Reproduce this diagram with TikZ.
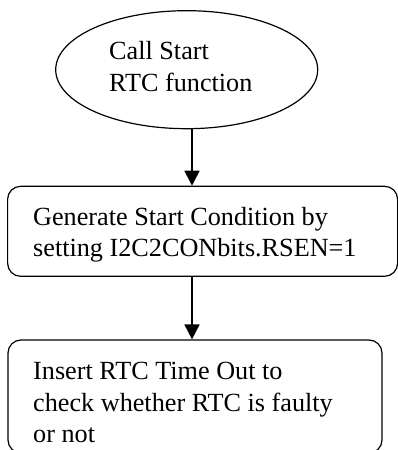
\documentclass[tikz,border=0pt]{standalone}
\usepackage{fontspec}
\setmainfont{Liberation Serif}
\usetikzlibrary{shapes.geometric,arrows.meta}
\begin{document}
\begin{tikzpicture}[x=1pt,y=1pt,
  shapeline/.style={draw=black,line width=1.2pt,inner sep=0pt},
  procbox/.style={shapeline,rectangle,rounded corners=13pt},
  txt/.style={anchor=base west,inner sep=0pt,font=\fontsize{26.2}{31}\selectfont},
  flow/.style={line width=1.8pt,-{Triangle[length=15pt,width=15pt]}}]
  \useasboundingbox (0,0) rectangle (398,450);
  \clip (0,0) rectangle (398,450);

  % start terminal
  \node[shapeline,ellipse,minimum width=262pt,minimum height=118pt] (start) at (186.7,380.3) {};
  \node[txt] (startA) at (109,390) {Call Start};
  \node[txt] (startB) at (109,358) {RTC function};

  % first process step
  \node[procbox,minimum width=390pt,minimum height=90pt] (gen) at (202.6,218.7) {};
  \node[txt] (genA) at (33,224) {Generate Start Condition by};
  \node[txt] (genB) at (33,193.3) {setting I2C2CONbits.RSEN=1};

  % second process step (runs past the lower edge)
  \node[procbox,minimum width=374pt,minimum height=113pt] (tout) at (195,53.5) {};
  \node[txt] (toutA) at (33,70) {Insert RTC Time Out to};
  \node[txt] (toutB) at (33,38.5) {check whether RTC is faulty};
  \node[txt] (toutC) at (33,8) {or not};

  % connectors
  \coordinate (ax) at (192,0);
  \draw[flow] (start.south -| ax) -- (gen.north -| ax);
  \draw[flow] (gen.south -| ax) -- (tout.north -| ax);
\end{tikzpicture}
\end{document}
